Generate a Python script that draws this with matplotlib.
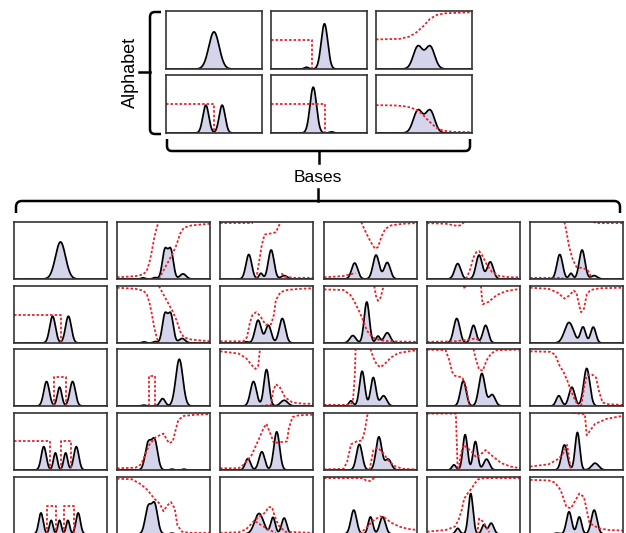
import numpy as np
import matplotlib
matplotlib.use("Agg")
import matplotlib.pyplot as plt
from matplotlib.path import Path
from matplotlib.patches import PathPatch

plt.rcParams['font.family'] = ['Liberation Sans', 'DejaVu Sans']

W, H = 626, 533      # figure size in pixels

# each density is a sum of bumps: (centre, height, width)
# each map is a list of dashed segments, each a list of (x, y)
alphabet_peaks = [
    [(0.50, 0.64, 0.054)],
    [(0.37, 0.03, 0.022), (0.557, 0.78, 0.034)],
    [(0.437, 0.39, 0.048), (0.563, 0.39, 0.048)],
    [(0.415, 0.48, 0.031), (0.585, 0.48, 0.031)],
    [(0.44, 0.79, 0.034), (0.63, 0.02, 0.022)],
    [(0.437, 0.39, 0.048), (0.563, 0.39, 0.048)],
]
alphabet_maps = [
    [],
    [[(0, 0.5), (0.43, 0.5), (0.43, 0)]],
    [[(0, 0.51), (0.25, 0.52), (0.35, 0.56), (0.42, 0.63), (0.5, 0.75), (0.56, 0.86),
      (0.63, 0.93), (0.72, 0.96), (1, 0.98)]],
    [[(0, 0.5), (0.5, 0.5), (0.5, 0)]],
    [[(0, 0.5), (0.565, 0.5), (0.565, 0)]],
    [[(0, 0.48), (0.2, 0.475), (0.3, 0.46), (0.36, 0.44), (0.43, 0.39), (0.48, 0.33),
      (0.53, 0.24), (0.58, 0.16), (0.63, 0.09), (0.7, 0.04), (0.8, 0.02), (1, 0.015)]],
]

# bases, one list per row
row1_peaks = [
    [(0.50, 0.65, 0.054)],
    [(0.28, 0.02, 0.022), (0.41, 0.025, 0.022), (0.515, 0.5, 0.028), (0.578, 0.5, 0.028), (0.71, 0.09, 0.033)],
    [(0.31, 0.43, 0.031), (0.44, 0.1, 0.02), (0.55, 0.51, 0.031), (0.69, 0.06, 0.033)],
    [(0.33, 0.28, 0.033), (0.56, 0.42, 0.033), (0.68, 0.29, 0.033)],
    [(0.33, 0.27, 0.033), (0.56, 0.42, 0.033), (0.68, 0.3, 0.033)],
    [(0.32, 0.43, 0.031), (0.44, 0.1, 0.02), (0.56, 0.51, 0.031), (0.69, 0.06, 0.033)],
]
row1_maps = [
    [],
    [[(0, 0.03), (0.2, 0.05), (0.28, 0.08), (0.32, 0.14), (0.35, 0.3), (0.37, 0.45), (0.4, 0.72),
      (0.43, 0.92), (0.45, 1.0)],
     [(0.45, 0), (0.5, 0.15), (0.55, 0.3), (0.6, 0.45), (0.64, 0.6), (0.68, 0.8), (0.72, 0.9),
      (0.8, 0.94), (1, 0.97)]],
    [[(0, 0.98), (0.36, 0.98)],
     [(0.39, 0), (0.42, 0.3), (0.45, 0.6), (0.48, 0.78), (0.55, 0.8), (0.6, 0.82), (0.63, 0.92), (0.65, 1.0)],
     [(0.66, 0.1), (0.7, 0.04), (0.8, 0.02), (1, 0.02)]],
    [[(0, 0.03), (0.2, 0.05), (0.3, 0.09), (0.34, 0.1)],
     [(0.4, 1.0), (0.44, 0.85), (0.48, 0.72), (0.52, 0.6), (0.55, 0.53), (0.58, 0.56), (0.62, 0.75),
      (0.66, 0.88), (0.72, 0.94), (0.85, 0.97), (1, 0.98)]],
    [[(0, 0.98), (0.2, 0.97), (0.33, 0.93), (0.37, 0.95), (0.4, 1.0)],
     [(0.42, 0), (0.46, 0.15), (0.5, 0.38), (0.53, 0.47), (0.56, 0.49), (0.6, 0.4), (0.64, 0.26),
      (0.7, 0.12), (0.78, 0.05), (0.9, 0.03), (1, 0.03)]],
    [[(0, 0.02), (0.3, 0.02), (0.36, 0.01)],
     [(0.37, 1.0), (0.39, 0.85), (0.42, 0.57), (0.46, 0.34), (0.5, 0.21), (0.57, 0.19), (0.62, 0.16),
      (0.65, 0.06), (0.66, 0)],
     [(0.68, 1.0), (0.72, 0.98), (1, 0.98)]],
]

row2_peaks = [
    [(0.415, 0.47, 0.031), (0.585, 0.47, 0.031)],
    [(0.29, 0.02, 0.022), (0.41, 0.025, 0.022), (0.515, 0.49, 0.028), (0.578, 0.49, 0.028), (0.7, 0.08, 0.033)],
    [(0.28, 0.02, 0.022), (0.41, 0.4, 0.033), (0.52, 0.31, 0.031), (0.67, 0.43, 0.033)],
    [(0.31, 0.13, 0.033), (0.46, 0.72, 0.028), (0.58, 0.12, 0.022), (0.68, 0.18, 0.033)],
    [(0.32, 0.43, 0.033), (0.5, 0.31, 0.028), (0.63, 0.31, 0.03)],
    [(0.42, 0.36, 0.048), (0.57, 0.28, 0.028), (0.68, 0.28, 0.028)],
]
row2_maps = [
    [[(0, 0.5), (0.5, 0.5), (0.5, 0)]],
    [[(0, 0.97), (0.2, 0.95), (0.28, 0.92), (0.32, 0.86), (0.35, 0.7), (0.37, 0.55), (0.4, 0.28),
      (0.43, 0.08), (0.45, 0)],
     [(0.45, 1.0), (0.5, 0.85), (0.55, 0.7), (0.6, 0.55), (0.64, 0.4), (0.68, 0.2), (0.72, 0.1),
      (0.8, 0.06), (1, 0.03)]],
    [[(0, 0.03), (0.25, 0.03), (0.29, 0.1), (0.32, 0.35), (0.35, 0.5), (0.39, 0.54), (0.43, 0.48),
      (0.49, 0.32), (0.55, 0.33), (0.58, 0.5), (0.6, 0.75), (0.65, 0.89), (0.72, 0.93), (0.85, 0.95), (1, 0.96)]],
    [[(0, 0.94), (0.21, 0.93), (0.28, 0.85), (0.32, 0.75), (0.38, 0.55), (0.42, 0.4), (0.46, 0.22),
      (0.52, 0.1), (0.6, 0.05), (0.7, 0.03), (1, 0.02)],
     [(0.54, 1.0), (0.56, 0.82), (0.58, 0.74), (0.61, 0.8), (0.64, 1.0)]],
    [[(0, 0.02), (0.3, 0.03), (0.45, 0.06), (0.52, 0.08), (0.56, 0.05), (0.58, 0)],
     [(0.58, 1.0), (0.59, 0.8), (0.6, 0.68), (0.66, 0.72), (0.75, 0.84), (0.85, 0.91), (1, 0.95)],
     [(0.395, 1.0), (0.405, 0.95), (0.415, 1.0)]],
    [[(0, 0.97), (0.2, 0.95), (0.3, 0.88), (0.37, 0.78), (0.42, 0.83), (0.47, 0.92), (0.5, 0.88),
      (0.53, 0.65), (0.55, 0.54), (0.58, 0.6), (0.61, 0.85), (0.65, 0.93), (0.75, 0.96), (1, 0.97)]],
]

row3_peaks = [
    [(0.35, 0.43, 0.03), (0.49, 0.33, 0.024), (0.63, 0.43, 0.03)],
    [(0.29, 0.015, 0.022), (0.49, 0.13, 0.028), (0.67, 0.82, 0.038)],
    [(0.36, 0.43, 0.033), (0.5, 0.64, 0.028), (0.69, 0.1, 0.038)],
    [(0.29, 0.09, 0.022), (0.41, 0.61, 0.028), (0.53, 0.5, 0.028), (0.64, 0.18, 0.033)],
    [(0.39, 0.44, 0.031), (0.59, 0.57, 0.033), (0.7, 0.2, 0.033)],
    [(0.31, 0.18, 0.028), (0.45, 0.33, 0.031), (0.61, 0.66, 0.033)],
]
row3_maps = [
    [[(0.43, 0), (0.43, 0.51), (0.56, 0.51), (0.56, 0)]],
    [[(0.34, 0), (0.34, 0.52), (0.41, 0.52), (0.41, 0)]],
    [[(0, 0.96), (0.2, 0.92), (0.28, 0.84), (0.34, 0.72), (0.38, 0.65), (0.41, 0.7), (0.43, 1.0)],
     [(0.44, 0), (0.55, 0.02), (0.57, 0.25), (0.6, 0.38), (0.64, 0.34), (0.7, 0.15), (0.78, 0.06),
      (0.9, 0.04), (1, 0.04)]],
    [[(0, 0.02), (0.27, 0.02), (0.31, 0.06), (0.33, 0.5), (0.34, 1.0)],
     [(0.5, 1.0), (0.53, 0.85), (0.57, 0.72), (0.61, 0.68), (0.66, 0.75), (0.72, 0.85), (0.8, 0.93), (1, 0.98)]],
    [[(0, 0.99), (0.2, 0.98), (0.24, 0.8), (0.27, 0.6), (0.3, 0.53), (0.38, 0.5), (0.42, 0.35),
      (0.45, 0.05), (0.46, 0)],
     [(0.5, 1.0), (0.52, 0.85), (0.56, 0.64), (0.6, 0.62), (0.64, 0.8), (0.69, 0.92), (0.75, 0.98), (1, 0.99)]],
    [[(0, 0.96), (0.22, 0.95), (0.27, 0.9), (0.32, 0.7), (0.36, 0.6), (0.4, 0.45), (0.44, 0.27),
      (0.48, 0.12), (0.52, 0)],
     [(0.55, 0), (0.58, 0.3), (0.61, 0.54), (0.67, 0.55), (0.71, 0.5), (0.74, 0.27), (0.78, 0.06),
      (0.85, 0.03), (1, 0.02)]],
]

row4_peaks = [
    [(0.32, 0.41, 0.027), (0.445, 0.3, 0.021), (0.555, 0.3, 0.021), (0.67, 0.41, 0.027)],
    [(0.335, 0.46, 0.032), (0.405, 0.51, 0.032), (0.59, 0.015, 0.017), (0.72, 0.015, 0.017)],
    [(0.3, 0.2, 0.028), (0.45, 0.32, 0.031), (0.61, 0.67, 0.031)],
    [(0.38, 0.45, 0.031), (0.59, 0.58, 0.031), (0.69, 0.19, 0.033)],
    [(0.29, 0.09, 0.022), (0.41, 0.62, 0.025), (0.52, 0.5, 0.025), (0.64, 0.19, 0.031)],
    [(0.37, 0.44, 0.031), (0.51, 0.66, 0.025), (0.7, 0.12, 0.038)],
]
row4_maps = [
    [[(0, 0.51), (0.385, 0.51), (0.385, 0)],
     [(0.5, 0), (0.5, 0.51), (0.61, 0.51), (0.61, 0)]],
    [[(0, 0.03), (0.2, 0.04), (0.26, 0.1), (0.31, 0.3), (0.35, 0.45), (0.42, 0.58), (0.5, 0.64),
      (0.53, 0.55), (0.56, 0.47), (0.6, 0.5), (0.63, 0.7), (0.66, 0.88), (0.72, 0.95), (0.85, 0.97), (1, 0.98)]],
    [[(0, 0.03), (0.2, 0.03), (0.26, 0.1), (0.34, 0.26), (0.42, 0.55), (0.47, 0.74), (0.5, 0.81),
      (0.55, 0.6), (0.58, 0.47), (0.65, 0.49), (0.72, 0.5), (0.74, 0.73), (0.78, 0.93), (0.85, 0.96), (1, 0.97)]],
    [[(0, 0.01), (0.21, 0.02), (0.25, 0.15), (0.29, 0.45), (0.35, 0.5), (0.41, 0.52), (0.44, 0.7),
      (0.47, 1.0)],
     [(0.49, 0), (0.53, 0.35), (0.58, 0.39), (0.64, 0.29), (0.7, 0.15), (0.77, 0.06), (0.85, 0.02), (1, 0.01)]],
    [[(0, 0.99), (0.31, 0.99), (0.32, 0.5), (0.33, 0)],
     [(0.34, 0), (0.36, 0.25), (0.39, 0.44), (0.44, 0.38), (0.48, 0.32), (0.53, 0.22), (0.58, 0.28),
      (0.63, 0.35), (0.7, 0.25), (0.8, 0.12), (0.9, 0.06), (1, 0.03)]],
    [[(0, 0.06), (0.2, 0.1), (0.31, 0.2), (0.36, 0.3), (0.4, 0.44), (0.43, 0.1), (0.44, 0)],
     [(0.46, 1.0), (0.59, 0.98), (0.61, 0.61), (0.65, 0.7), (0.7, 0.81), (0.83, 0.9), (1, 0.95)]],
]

row5_peaks = [
    [(0.29, 0.37, 0.024), (0.4, 0.24, 0.019), (0.49, 0.24, 0.019), (0.58, 0.24, 0.019), (0.69, 0.37, 0.024)],
    [(0.335, 0.46, 0.032), (0.405, 0.51, 0.032), (0.59, 0.015, 0.017)],
    [(0.42, 0.36, 0.048), (0.57, 0.29, 0.025), (0.69, 0.28, 0.028)],
    [(0.32, 0.42, 0.031), (0.5, 0.3, 0.025), (0.63, 0.3, 0.031)],
    [(0.33, 0.1, 0.022), (0.47, 0.71, 0.025), (0.61, 0.16, 0.022), (0.69, 0.19, 0.028)],
    [(0.29, 0.015, 0.022), (0.42, 0.39, 0.028), (0.53, 0.3, 0.025), (0.69, 0.42, 0.031)],
]
row5_maps = [
    [[(0.35, 0), (0.35, 0.49), (0.45, 0.49), (0.45, 0)],
     [(0.54, 0), (0.54, 0.49), (0.64, 0.49), (0.64, 0)]],
    [[(0, 0.97), (0.16, 0.96), (0.25, 0.88), (0.33, 0.77), (0.4, 0.62), (0.46, 0.53), (0.5, 0.4),
      (0.54, 0.5), (0.58, 0.56), (0.62, 0.45), (0.65, 0.15), (0.7, 0.04), (0.78, 0.02), (1, 0.02)]],
    [[(0, 0.02), (0.2, 0.03), (0.28, 0.08), (0.36, 0.22), (0.42, 0.3), (0.49, 0.38), (0.52, 0.47),
      (0.56, 0.47), (0.59, 0.3), (0.63, 0.15), (0.7, 0.04), (1, 0.02)],
     [(0.38, 0.22), (0.45, 0.15), (0.52, 0.08), (0.6, 0.02)]],
    [[(0, 0.98), (0.42, 0.98), (0.45, 0.94), (0.5, 0.93), (0.53, 0.97), (0.55, 1.0)],
     [(0.38, 0), (0.45, 0.1), (0.52, 0.22), (0.6, 0.31), (0.65, 0.29), (0.72, 0.2), (0.81, 0.13),
      (0.9, 0.09), (1, 0.07)]],
    [[(0, 0.04), (0.2, 0.07), (0.3, 0.13), (0.34, 0.25), (0.37, 0.4), (0.4, 0.62), (0.44, 0.72),
      (0.48, 0.8), (0.52, 0.9), (0.55, 0.96), (0.62, 0.98), (0.7, 0.98), (1, 0.98)],
     [(0.54, 0), (0.56, 0.27), (0.6, 0.22), (0.64, 0.12), (0.67, 0.03)]],
    [[(0, 0.95), (0.2, 0.94), (0.27, 0.9), (0.33, 0.77), (0.39, 0.48), (0.44, 0.45), (0.53, 0.71),
      (0.58, 0.65), (0.64, 0.19), (0.74, 0.1), (0.85, 0.07), (1, 0.06)]],
]

bases_peaks = [row1_peaks, row2_peaks, row3_peaks, row4_peaks, row5_peaks]
bases_maps = [row1_maps, row2_maps, row3_maps, row4_maps, row5_maps]

fill_col = '#d4d4ea'
red = '#e8232b'
xs = np.linspace(0, 1, 500)


def draw_panel(ax, peaks, maps):
    dens = np.zeros_like(xs)
    for c, h, s in peaks:
        dens += h * np.exp(-0.5 * ((xs - c) / s) ** 2)
    ax.fill_between(xs, dens, color=fill_col, lw=0)
    ax.plot(xs, dens, color='black', lw=1.25)
    for seg in maps:
        px, py = zip(*seg)
        ax.plot(px, py, color=red, lw=1.3, ls=(0, (1.4, 1.1)))
    ax.set_xlim(0, 1)
    ax.set_ylim(0, 1)
    ax.set_xticks([])
    ax.set_yticks([])
    for sp in ax.spines.values():
        sp.set_color('#333333')
        sp.set_linewidth(1.2)


def add_panel(left, top, w, h):
    # pixel box -> figure fraction
    return fig.add_axes([left / W, 1 - (top + h) / H, w / W, h / H])


fig = plt.figure(figsize=(W / 100, H / 100), dpi=100)

# overlay in pixel coords for the brackets and labels
over = fig.add_axes([0, 0, 1, 1])
over.set_xlim(0, W)
over.set_ylim(H, 0)
over.axis('off')


def bracket(verts, codes):
    over.add_patch(PathPatch(Path(verts, codes), fc='none', ec='black', lw=1.8, capstyle='butt'))


M, L, C = Path.MOVETO, Path.LINETO, Path.CURVE3
# alphabet bracket on the left
bracket([(161, 12), (155, 12), (150, 12), (150, 17), (150, 129), (150, 134), (155, 134), (161, 134)],
        [M, L, C, C, L, C, C, L])
over.plot([139, 150], [72, 72], color='black', lw=1.8)
over.text(130, 72, 'Alphabet', rotation=90, ha='center', va='center', fontsize=13)

# bracket under the alphabet
bracket([(167, 139), (167, 146), (167, 151), (172, 151), (465, 151), (470, 151), (470, 146), (470, 139)],
        [M, L, C, C, L, C, C, L])
over.plot([319, 319], [151, 163], color='black', lw=1.8)
over.text(318, 177, 'Bases', ha='center', va='center', fontsize=12.5)
over.plot([318, 318], [189, 201], color='black', lw=1.8)

# wide bracket over the bases
bracket([(16, 213), (16, 207), (16, 201), (22, 201), (614, 201), (620, 201), (620, 207), (620, 213)],
        [M, L, C, C, L, C, C, L])

# alphabet grid 2 x 3
a_left = [166, 271, 376]
a_top = [11, 75]
for i in range(6):
    r, c = divmod(i, 3)
    ax = add_panel(a_left[c], a_top[r], 96, 58)
    draw_panel(ax, alphabet_peaks[i], alphabet_maps[i])

# bases grid 5 x 6
b_left = [14, 117, 220, 324, 427, 530]
b_top = [222, 286, 349, 413, 477]
for r in range(5):
    for c in range(6):
        ax = add_panel(b_left[c], b_top[r], 93, 57)
        draw_panel(ax, bases_peaks[r][c], bases_maps[r][c])

fig.savefig('out.png', dpi=100)
